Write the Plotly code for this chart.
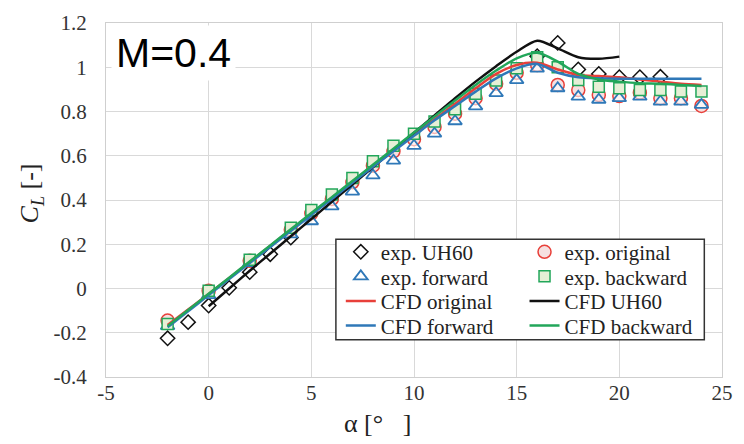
import plotly.graph_objects as go

# ---------------- data ----------------
alpha_exp = [-2, 0, 2, 4, 5, 6, 7, 8, 9, 10, 11, 12, 13, 14, 15, 16, 17, 18, 19, 20, 21, 22, 23, 24]
cl_exp_original = [-0.145, -0.01, 0.125, 0.265, 0.34, 0.405, 0.48, 0.555, 0.62, 0.675, 0.73, 0.79,
                   0.86, 0.925, 0.975, 1.01, 0.92, 0.897, 0.875, 0.87, 0.885, 0.86, 0.86, 0.825]
cl_exp_forward = [-0.17, -0.03, 0.115, 0.245, 0.304, 0.371, 0.438, 0.511, 0.578, 0.645, 0.70, 0.756,
                  0.823, 0.883, 0.942, 0.994, 0.905, 0.867, 0.853, 0.86, 0.867, 0.845, 0.845, 0.83]
cl_exp_backward = [-0.16, -0.01, 0.13, 0.275, 0.355, 0.425, 0.5, 0.575, 0.645, 0.70, 0.755, 0.81,
                   0.88, 0.94, 0.995, 1.045, 1.0, 0.942, 0.912, 0.905, 0.897, 0.897, 0.89, 0.89]

alpha_exp_uh60 = [-2, -1, 0, 1, 2, 3, 4, 16, 17, 18, 19, 20, 21, 22]
cl_exp_uh60 = [-0.225, -0.152, -0.077, 0.003, 0.074, 0.155, 0.23, 1.05, 1.11, 0.99, 0.97, 0.955, 0.955, 0.957]

alpha_cfd = [-2, -1, 0, 1, 2, 3, 4, 5, 6, 7, 8, 9, 10, 11, 12, 13, 14, 15, 16, 17, 18, 19, 20, 21, 22, 23, 24]
cl_cfd_original = [-0.165, -0.095, -0.025, 0.048, 0.12, 0.193, 0.265, 0.338, 0.41, 0.483, 0.555, 0.625,
                   0.695, 0.765, 0.835, 0.905, 0.97, 1.01, 1.02, 0.99, 0.965, 0.96, 0.955, 0.945,
                   0.935, 0.925, 0.92]
cl_cfd_forward = [-0.175, -0.103, -0.03, 0.043, 0.115, 0.188, 0.26, 0.333, 0.405, 0.478, 0.55, 0.62,
                  0.69, 0.76, 0.825, 0.89, 0.95, 0.995, 1.015, 0.975, 0.955, 0.95, 0.948, 0.948,
                  0.948, 0.948, 0.948]
cl_cfd_backward = [-0.17, -0.097, -0.024, 0.049, 0.122, 0.195, 0.268, 0.341, 0.413, 0.486, 0.559, 0.632,
                   0.705, 0.778, 0.85, 0.92, 0.985, 1.04, 1.065, 1.025, 0.97, 0.945, 0.935, 0.928,
                   0.925, 0.92, 0.915]

alpha_cfd_uh60 = [0, 1, 2, 3, 4, 5, 6, 7, 8, 9, 10, 11, 12, 13, 14, 15, 16, 17, 18, 19, 20]
cl_cfd_uh60 = [-0.08, 0.0, 0.08, 0.158, 0.236, 0.314, 0.392, 0.47, 0.548, 0.626, 0.704, 0.782,
               0.86, 0.935, 1.005, 1.07, 1.12, 1.085, 1.045, 1.038, 1.048]

x_tickvals = [-5, 0, 5, 10, 15, 20, 25]
x_ticktext = ["-5", "0", "5", "10", "15", "20", "25"]
y_tickvals = [-0.4, -0.2, 0, 0.2, 0.4, 0.6, 0.8, 1.0, 1.2]
y_ticktext = ["-0.4", "-0.2", "0", "0.2", "0.4", "0.6", "0.8", "1", "1.2"]

# ---------------- style ----------------
RED = "#e8403a"
BLUE = "#2f78b8"
GREEN = "#22a65a"
BLACK = "#111111"
SERIF = "Liberation Serif, Times New Roman, serif"

fig = go.Figure()

fig.add_trace(go.Scatter(x=alpha_exp_uh60, y=cl_exp_uh60, mode="markers", name="exp. UH60",
                         marker=dict(symbol="diamond", size=11, color="white",
                                     line=dict(color=BLACK, width=1.5)), legend="legend"))
fig.add_trace(go.Scatter(x=alpha_exp, y=cl_exp_original, mode="markers", name="exp. original",
                         marker=dict(symbol="circle", size=13, color="#f6e0e0",
                                     line=dict(color=RED, width=1.5)), legend="legend2"))
fig.add_trace(go.Scatter(x=alpha_exp, y=cl_exp_forward, mode="markers", name="exp. forward",
                         marker=dict(symbol="triangle-up", size=12, color="rgba(255,255,255,0.6)",
                                     line=dict(color=BLUE, width=1.8)), legend="legend3"))
fig.add_trace(go.Scatter(x=alpha_exp, y=cl_exp_backward, mode="markers", name="exp. backward",
                         marker=dict(symbol="square", size=11, color="#e6efd6",
                                     line=dict(color=GREEN, width=1.5)), legend="legend4"))

fig.add_trace(go.Scatter(x=alpha_cfd, y=cl_cfd_original, mode="lines", name="CFD original",
                         line=dict(color=RED, width=2.5, shape="spline", smoothing=0.8), legend="legend5"))
fig.add_trace(go.Scatter(x=alpha_cfd_uh60, y=cl_cfd_uh60, mode="lines", name="CFD UH60",
                         line=dict(color=BLACK, width=2.5, shape="spline", smoothing=0.8), legend="legend6"))
fig.add_trace(go.Scatter(x=alpha_cfd, y=cl_cfd_forward, mode="lines", name="CFD forward",
                         line=dict(color=BLUE, width=2.5, shape="spline", smoothing=0.8), legend="legend7"))
fig.add_trace(go.Scatter(x=alpha_cfd, y=cl_cfd_backward, mode="lines", name="CFD backward",
                         line=dict(color=GREEN, width=2.5, shape="spline", smoothing=0.8), legend="legend8"))

W, H = 744, 444
L, R, T, B = 106, 11, 17, 67
pw, ph = W - L - R, H - T - B


def px_x(px):
    return (px - L) / pw


def px_y(py):
    return (H - B - py) / ph


col_x = [px_x(345), px_x(532)]
row_y = [px_y(250), px_y(275), px_y(300), px_y(325)]
leg_font = dict(family=SERIF, size=21, color="#222222")
legend_pos = {}
names = ["legend", "legend2", "legend3", "legend4", "legend5", "legend6", "legend7", "legend8"]
for i, nm in enumerate(names):
    legend_pos[nm] = dict(x=col_x[i % 2], y=row_y[i // 2], xanchor="left", yanchor="middle",
                          bgcolor="rgba(0,0,0,0)", borderwidth=0, font=leg_font,
                          itemwidth=30, tracegroupgap=0)

fig.update_layout(
    width=W, height=H,
    margin=dict(l=L, r=R, t=T, b=B, pad=0),
    paper_bgcolor="white", plot_bgcolor="white",
    showlegend=True,
    **legend_pos,
    xaxis=dict(range=[-5, 25], tickvals=x_tickvals, ticktext=x_ticktext,
               showgrid=True, gridcolor="#d9d9d9", gridwidth=1, zeroline=False,
               showline=True, linecolor="#cfcfcf", linewidth=1, mirror=True,
               ticks="", ticklabelstandoff=-3,
               tickfont=dict(family=SERIF, size=21, color="#333333")),
    yaxis=dict(range=[-0.4, 1.2], tickvals=y_tickvals, ticktext=y_ticktext,
               showgrid=True, gridcolor="#d9d9d9", gridwidth=1, zeroline=False,
               showline=True, linecolor="#cfcfcf", linewidth=1, mirror=True,
               ticks="", ticklabelstandoff=14,
               tickfont=dict(family=SERIF, size=21, color="#333333")),
    shapes=[dict(type="rect", xref="paper", yref="paper",
                 x0=px_x(340), x1=px_x(715), y0=px_y(339), y1=px_y(237),
                 line=dict(color="#333333", width=1.5), fillcolor="white", layer="above")],
    annotations=[
        dict(text="M=0.4", xref="paper", yref="paper", x=px_x(175), y=px_y(48),
             xanchor="center", yanchor="middle", showarrow=False,
             font=dict(family="Liberation Sans, Arial, sans-serif", size=41, color="black"),
             bgcolor="white", borderpad=4),
        dict(text="<i>C</i><sub><i>L</i></sub> [-]", xref="paper", yref="paper",
             x=px_x(30), y=px_y(190), xanchor="center", yanchor="middle", textangle=-90,
             showarrow=False, font=dict(family=SERIF, size=26, color="#222222")),
        dict(text="α [°   ]", xref="paper", yref="paper", x=px_x(382), y=px_y(424),
             xanchor="center", yanchor="middle", showarrow=False,
             font=dict(family=SERIF, size=26, color="#222222")),
    ],
)

fig.write_html("out.html")
